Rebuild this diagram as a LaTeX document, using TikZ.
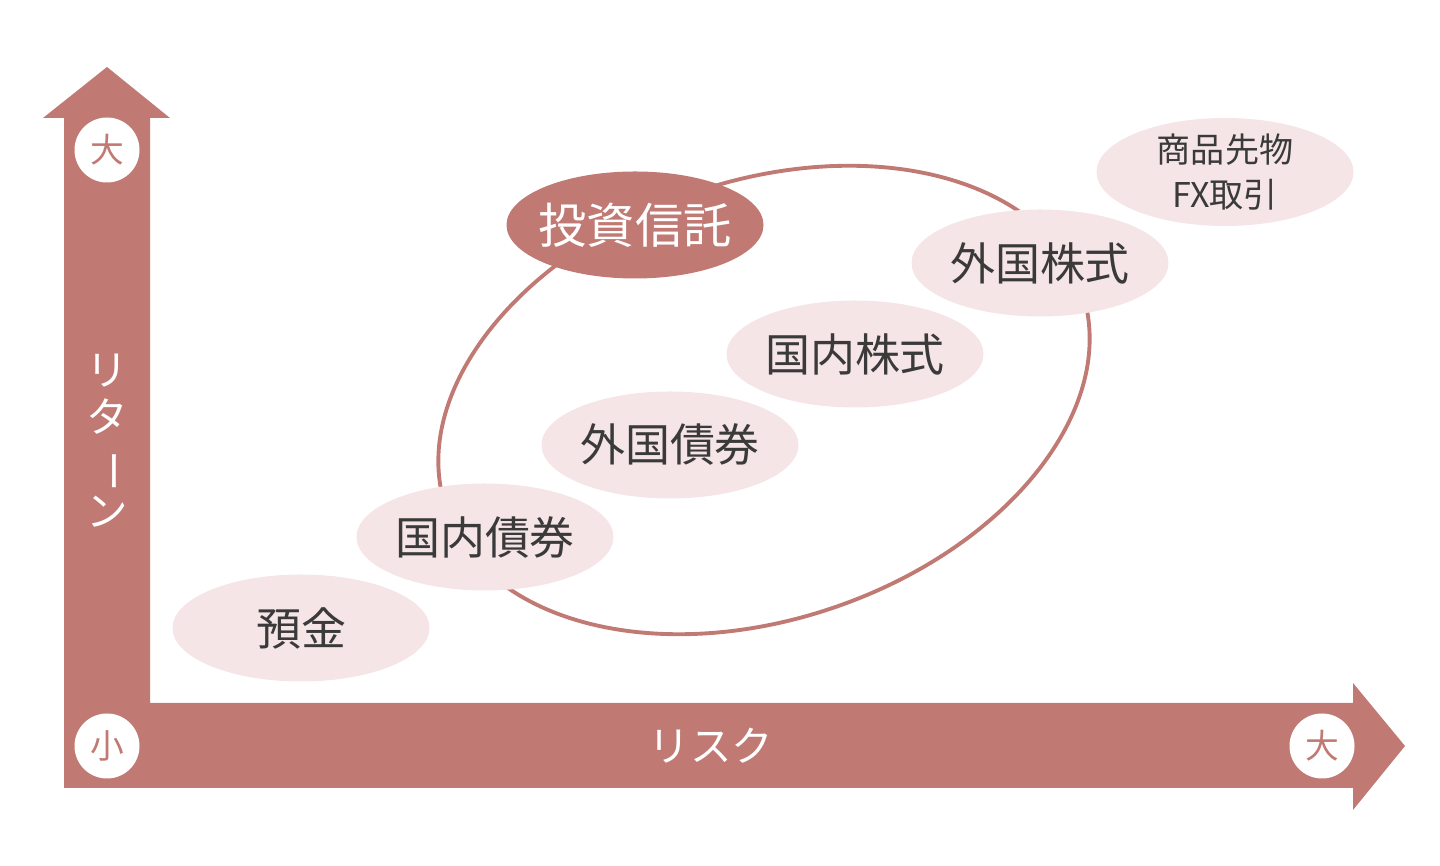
\documentclass[tikz,border=0pt]{standalone}
\usepackage{fontspec}
\newfontfamily\jp{Noto Sans CJK JP}
\usetikzlibrary{shapes.geometric}
\definecolor{rosebrown}{HTML}{C07A73}
\definecolor{rosepale}{HTML}{F5E5E7}
\definecolor{inkgray}{HTML}{3A3A3A}

\begin{document}
\begin{tikzpicture}[line join=round,
  bubble/.style={ellipse,fill=rosepale,minimum width=2.57cm,minimum height=1.07cm,inner sep=0pt,text=inkgray,font=\jp\fontsize{12.8}{15}\selectfont},
  tagcircle/.style={circle,fill=white,minimum size=0.65cm,inner sep=0pt,text=rosebrown,font=\jp\fontsize{9.6}{11}\selectfont}]
  \useasboundingbox (0,0) rectangle (14.4,8.66);
  \fill[rosebrown] (0.64,0.78) -- (13.53,0.78) -- (13.53,0.56) -- (14.05,1.20) -- (13.53,1.83)
    -- (13.53,1.63) -- (1.50,1.63) -- (1.50,7.48) -- (1.70,7.48) -- (1.07,7.99) -- (0.43,7.48)
    -- (0.64,7.48) -- cycle;
  \node[tagcircle] (retbig) at (1.07,7.16) {大};
  \node[tagcircle] (small) at (1.07,1.20) {小};
  \node[tagcircle] (riskbig) at (13.22,1.20) {大};
  \node[text=white,align=center,font=\jp\fontsize{11.8}{13.4}\selectfont] (retlabel) at (1.07,4.25)
    {リ\\タ\\\rotatebox[origin=c]{-90}{ー}\\ン};
  \node[text=white,font=\jp\fontsize{11.8}{14}\selectfont] (risklabel) at (7.11,1.20) {リスク};
  \draw[rosebrown,line width=1.1pt,rotate around={19:(7.64,4.66)}] (7.64,4.66) ellipse [x radius=3.36cm,y radius=2.19cm];
  \node[bubble] (yokin) at (3.01,2.38) {預金};
  \node[bubble] (kokunaisai) at (4.85,3.29) {国内債券};
  \node[bubble] (gaikokusai) at (6.70,4.21) {外国債券};
  \node[bubble] (kokunaikabu) at (8.55,5.12) {国内株式};
  \node[bubble] (gaikokukabu) at (10.40,6.03) {外国株式};
  \node[bubble,align=center,font=\jp\fontsize{9.7}{12.8}\selectfont] (shohin) at (12.25,6.94) {商品先物\\FX取引};
  \node[bubble,inner xsep=-8pt,fill=rosebrown,text=white,font=\jp\fontsize{13.7}{16}\selectfont] (toshin) at (6.35,6.41) {投資信託};
\end{tikzpicture}
\end{document}
